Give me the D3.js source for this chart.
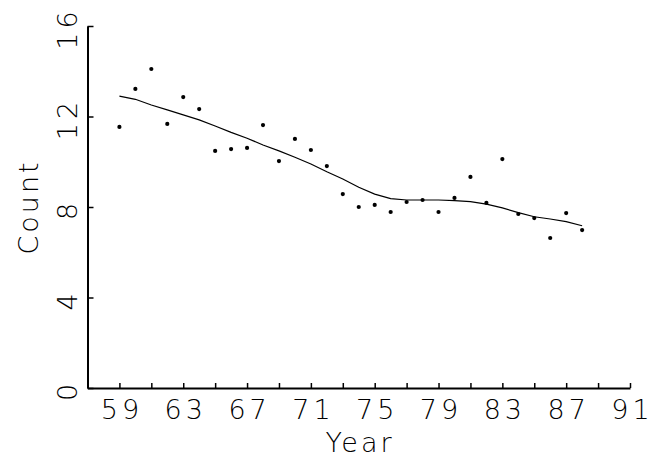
<!DOCTYPE html>
<html>
<head>
<meta charset="utf-8">
<script src="https://cdn.jsdelivr.net/npm/d3@7"></script>
<style>
  body { margin: 0; background: #fff; }
  text { font-family: "DejaVu Sans", sans-serif; font-weight: 200; fill: #000; }
</style>
</head>
<body>
<div id="visualization"></div>
<script>
// observed yearly counts
let years = [59, 60, 61, 62, 63, 64, 65, 66, 67, 68, 69, 70, 71, 72, 73,
             74, 75, 76, 77, 78, 79, 80, 81, 82, 83, 84, 85, 86, 87, 88]
let counts = [11.54, 13.22, 14.10, 11.67, 12.86, 12.33, 10.48, 10.56, 10.61, 11.62,
              10.03, 11.01, 10.52, 9.81, 8.57, 8.00, 8.09, 7.78, 8.22, 8.31,
              7.78, 8.40, 9.33, 8.18, 10.12, 7.69, 7.51, 6.63, 7.73, 6.98]
// smoothed curve
let smooth = [12.90, 12.76, 12.51, 12.29, 12.07, 11.85, 11.58, 11.30, 11.04, 10.74,
              10.48, 10.20, 9.90, 9.56, 9.24, 8.87, 8.57, 8.37, 8.31, 8.31,
              8.31, 8.28, 8.24, 8.13, 7.96, 7.75, 7.57, 7.47, 7.35, 7.17]
let xTicks = [59, 61, 63, 65, 67, 69, 71, 73, 75, 77, 79, 81, 83, 85, 87, 89, 91]
let xLabels = [59, 63, 67, 71, 75, 79, 83, 87, 91]
let yTicks = [0, 4, 8, 12, 16]

let width = 660
let height = 466

let svg = d3.select('#visualization')
  .append('svg')
    .attr('width', width)
    .attr('height', height)

let xScale = d3.scaleLinear()
  .domain([57, 91])
  .range([87.5, 630])

let yScale = d3.scaleLinear()
  .domain([0, 16])
  .range([388, 26])

let xAxis = svg.append('g')
  .attr('transform', 'translate(0,388)')
  .call(d3.axisBottom(xScale)
    .tickValues(xTicks)
    .tickSizeInner(-5)
    .tickSizeOuter(0)
    .tickPadding(12)
    .tickFormat((d) => xLabels.includes(d) ? d : ''))

xAxis.select('.domain').attr('stroke-width', 2)
xAxis.selectAll('.tick line').attr('stroke-width', 1.5)
xAxis.selectAll('.tick text')
  .attr('font-size', 27)
  .attr('letter-spacing', 4)
  .attr('dx', 2)
  .style('font-family', '"DejaVu Sans", sans-serif')
  .style('font-weight', 200)

let yAxis = svg.append('g')
  .attr('transform', 'translate(87.5,0)')
  .call(d3.axisLeft(yScale)
    .tickValues(yTicks)
    .tickSizeInner(-6)
    .tickSizeOuter(0)
    .tickFormat((d) => d))

yAxis.select('.domain').attr('stroke-width', 2)
yAxis.selectAll('.tick line').attr('stroke-width', 1.5)
yAxis.selectAll('.tick text')
  .attr('font-size', 27)
  .attr('letter-spacing', 4)
  .attr('text-anchor', 'middle')
  .attr('x', 0)
  .attr('dy', 0)
  .attr('transform', 'translate(-11,2) rotate(-90)')
  .style('font-family', '"DejaVu Sans", sans-serif')
  .style('font-weight', 200)

svg.append('text')
  .attr('x', 360)
  .attr('y', 452)
  .attr('text-anchor', 'middle')
  .attr('font-size', 27)
  .attr('letter-spacing', 3)
  .text('Year')

svg.append('text')
  .attr('transform', 'translate(38,207) rotate(-90)')
  .attr('text-anchor', 'middle')
  .attr('font-size', 27)
  .attr('letter-spacing', 3)
  .text('Count')

let line = d3.line()
  .x((d, i) => xScale(years[i]))
  .y((d) => yScale(d))

svg.append('path')
  .datum(smooth)
  .attr('d', line)
  .attr('fill', 'none')
  .attr('stroke', '#000')
  .attr('stroke-width', 1.2)

svg.selectAll('circle')
  .data(counts)
  .enter()
  .append('circle')
    .attr('cx', (d, i) => xScale(years[i]))
    .attr('cy', (d) => yScale(d))
    .attr('r', 2.1)
    .attr('fill', '#000')
</script>
</body>
</html>
